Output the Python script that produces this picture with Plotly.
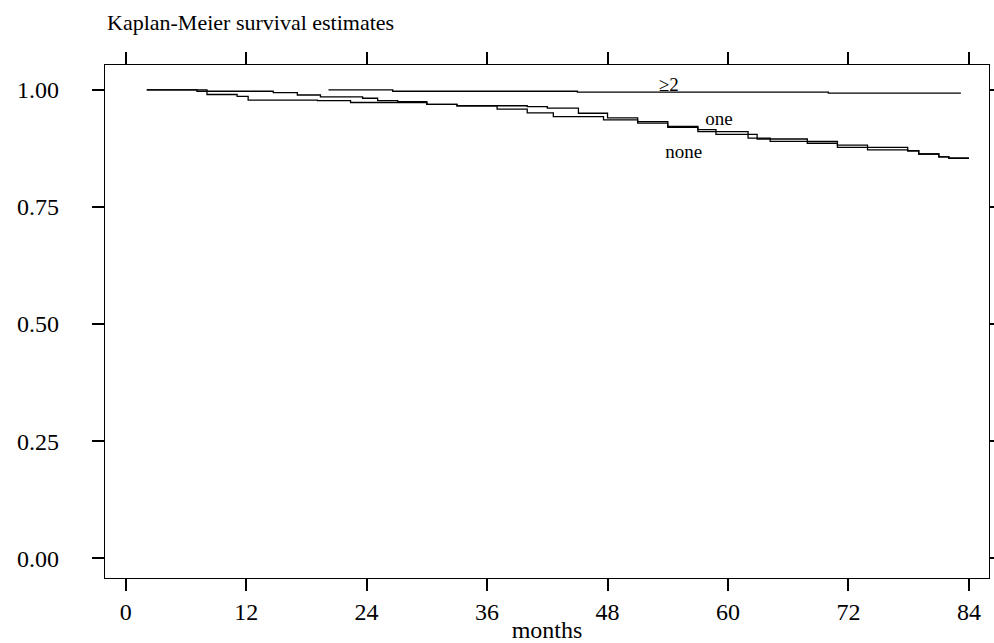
import plotly.graph_objects as go

# Kaplan-Meier step curves (months, survival)
t_none = [2.1, 7.1, 14.7, 17.1, 19.4, 23.6, 25.1, 27.1, 30.0, 33.0, 37.0, 40.0, 42.6, 47.6, 51.0, 54.0, 57.0, 62.0, 64.2, 70.9, 77.9, 79.0, 81.0, 82.0, 84.0]
s_none = [1.000, 0.997, 0.994, 0.989, 0.985, 0.982, 0.977, 0.975, 0.969, 0.966, 0.959, 0.951, 0.943, 0.936, 0.929, 0.920, 0.911, 0.897, 0.890, 0.877, 0.870, 0.863, 0.857, 0.854, 0.854]

t_one = [2.1, 8.1, 11.1, 12.2, 19.1, 22.4, 30.0, 33.0, 40.0, 42.0, 45.1, 48.0, 51.0, 54.0, 57.0, 58.8, 62.9, 67.9, 70.9, 73.9, 77.9, 79.0, 81.0, 82.0, 84.0]
s_one = [1.000, 0.990, 0.986, 0.978, 0.977, 0.973, 0.969, 0.966, 0.964, 0.961, 0.950, 0.940, 0.932, 0.922, 0.915, 0.905, 0.895, 0.886, 0.882, 0.872, 0.870, 0.863, 0.857, 0.854, 0.854]

t_two = [20.2, 26.6, 45.0, 70.0, 83.2]
s_two = [1.000, 0.997, 0.995, 0.993, 0.993]

x_ticks = [0, 12, 24, 36, 48, 60, 72, 84]
y_ticks = [0.0, 0.25, 0.5, 0.75, 1.0]
y_tick_labels = ["0.00", "0.25", "0.50", "0.75", "1.00"]

labels = ["≥2", "one", "none"]
label_x = [54.1, 59.1, 55.6]
label_y = [1.008, 0.935, 0.865]

FONT = "Liberation Serif, Times New Roman, serif"

fig = go.Figure()
for t, s in [(t_none, s_none), (t_one, s_one), (t_two, s_two)]:
    fig.add_trace(go.Scatter(x=t, y=s, mode="lines", line=dict(color="black", width=1.3, shape="hv"),
                             showlegend=False, hoverinfo="skip"))

fig.add_trace(go.Scatter(x=label_x, y=label_y, mode="text", text=labels,
                         textfont=dict(family=FONT, size=19, color="black"),
                         showlegend=False, hoverinfo="skip"))

fig.update_layout(
    width=994, height=643,
    margin=dict(l=105, r=5, t=65, b=65),
    plot_bgcolor="white", paper_bgcolor="white",
    font=dict(family=FONT, size=24, color="black"),
    title=dict(text="Kaplan-Meier survival estimates", x=107/994, xanchor="left",
               y=1 - 22/643, yanchor="middle", font=dict(family=FONT, size=22, color="black")),
)
fig.update_xaxes(range=[-2.06, 86.0], tickvals=x_ticks, ticks="outside", ticklen=12, tickwidth=1.5,
                 tickcolor="black", showline=True, linecolor="black", linewidth=1.2, mirror="allticks",
                 showgrid=False, zeroline=False, ticklabelstandoff=0, automargin=False,
                 title=dict(text="months", font=dict(family=FONT, size=24), standoff=0))
fig.update_yaxes(range=[-0.042, 1.053], tickvals=y_ticks, ticktext=y_tick_labels, ticks="outside",
                 ticklen=12, tickwidth=1.5, tickcolor="black", showline=True, linecolor="black",
                 linewidth=1.2, mirror="allticks", showgrid=False, zeroline=False, ticklabelstandoff=28,
                 automargin=False)

fig.write_html("out.html", config={"displayModeBar": False},
               post_script="document.body.style.margin='0px';document.body.style.overflow='hidden';")
